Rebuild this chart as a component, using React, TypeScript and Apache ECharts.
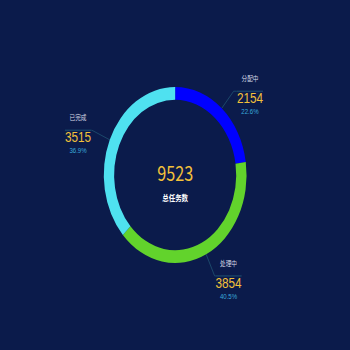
import React, { useEffect, useRef } from 'react';
import * as echarts from 'echarts';

const names = ['分配中', '处理中', '已完成'];
const values = [2154, 3854, 3515];
const colors = ['#0000ff', '#62d32c', '#4fe1f0'];
const centerLabel = '总任务数';

const SX = 0.811;
const W = 350 / SX;
const FONT = '"Noto Sans CJK SC", "Noto Sans", sans-serif';
const NUM_FONT = '"Liberation Sans", sans-serif';

export default function App() {
  const ref = useRef<HTMLDivElement>(null);
  useEffect(() => {
    document.body.style.margin = '0';
    const chart = echarts.init(ref.current!, null, { renderer: 'svg' });
    const total = values.reduce((a, b) => a + b, 0);
    const lineCfg = [
      { length: 22.5, length2: 4 },
      { length: 24, length2: 1 },
      { length: 24, length2: 1 },
    ];
    chart.setOption({
      animation: false,
      backgroundColor: '#0b1b4b',
      graphic: [
        {
          type: 'text',
          left: 'center',
          top: 162,
          style: { text: String(total), fill: '#f3c13a', font: `20px ${FONT}` },
        },
        {
          type: 'text',
          left: 'center',
          top: 194,
          style: { text: centerLabel, fill: '#ffffff', font: `bold 8px ${FONT}` },
        },
      ],
      series: [
        {
          type: 'pie',
          radius: ['43%', '50.3%'],
          center: ['50%', '50%'],
          startAngle: 90,
          clockwise: true,
          avoidLabelOverlap: false,
          label: {
            distanceToLabelLine: 0,
            fontFamily: FONT,
            formatter: (p: any) =>
              `{name|${p.name}}\n{hr|}\n{value|${p.value}}\n{per|${((p.value / total) * 100).toFixed(1)}%}`,
            rich: {
              name: { fontSize: 7, color: '#d6dae6', lineHeight: 26, align: 'center', fontFamily: FONT },
              hr: { borderColor: '#1d4c6e', width: '100%', borderWidth: 0.8, height: 0, lineHeight: 0 },
              value: { fontSize: 14.5, color: '#f3c13a', lineHeight: 14, align: 'center', fontFamily: NUM_FONT },
              per: { fontSize: 7.5, color: '#3aa9dc', lineHeight: 12, align: 'center', fontFamily: NUM_FONT },
            },
          },
          labelLine: { lineStyle: { color: '#1d4c6e', width: 1 } },
          data: values.map((v, i) => ({
            value: v,
            name: names[i],
            itemStyle: { color: colors[i] },
            labelLine: { ...lineCfg[i] },
          })),
        },
      ],
    });
    return () => chart.dispose();
  }, []);
  return (
    <div style={{ position: 'fixed', left: 0, top: 0, width: 350, height: 350, overflow: 'hidden', background: '#0b1b4b' }}>
      <div
        ref={ref}
        style={{ width: W, height: 350, transform: `scaleX(${SX})`, transformOrigin: '0 0' }}
      />
    </div>
  );
}
